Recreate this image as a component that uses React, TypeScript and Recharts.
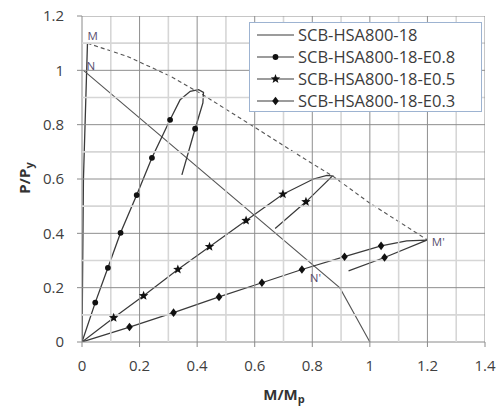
import { ComposedChart, Line, Scatter, XAxis, YAxis } from 'recharts';

// axis ticks and grid positions
const xTicks = [0, 0.2, 0.4, 0.6, 0.8, 1, 1.2, 1.4];
const yTicks = [0, 0.2, 0.4, 0.6, 0.8, 1, 1.2];
const xMinor = [0.1, 0.3, 0.5, 0.7, 0.9, 1.1, 1.3];
const yMinor = [0.1, 0.3, 0.5, 0.7, 0.9, 1.1];
const xMajor = [0.2, 0.4, 0.6, 0.8, 1, 1.2, 1.4];
const yMajor = [0.2, 0.4, 0.6, 0.8, 1, 1.2];

// SCB-HSA800-18 (elastic branch + interaction curve)
const baseElastic = [
  { x: 0, y: 0 },
  { x: 0.005, y: 0.6 },
  { x: 0.019, y: 1.1 },
];
const baseCurve = [
  { x: 0.005, y: 1.0 },
  { x: 0.896, y: 0.199 },
  { x: 1.0, y: 0 },
];

// dashed envelope M -> M'
const envelope = [
  { x: 0.019, y: 1.1 },
  { x: 0.16, y: 1.05 },
  { x: 0.306, y: 0.979 },
  { x: 0.42, y: 0.91 },
  { x: 0.596, y: 0.793 },
  { x: 0.769, y: 0.677 },
  { x: 0.872, y: 0.61 },
  { x: 1.0, y: 0.511 },
  { x: 1.198, y: 0.377 },
];

// E0.8
const e08Curve = [
  { x: 0, y: 0 },
  { x: 0.046, y: 0.145 },
  { x: 0.09, y: 0.273 },
  { x: 0.134, y: 0.402 },
  { x: 0.19, y: 0.541 },
  { x: 0.243, y: 0.678 },
  { x: 0.306, y: 0.818 },
  { x: 0.341, y: 0.892 },
  { x: 0.376, y: 0.923 },
  { x: 0.405, y: 0.929 },
  { x: 0.422, y: 0.919 },
  { x: 0.42, y: 0.88 },
  { x: 0.393, y: 0.785 },
  { x: 0.347, y: 0.615 },
];
const e08Marks = [
  { x: 0.046, y: 0.145 },
  { x: 0.09, y: 0.273 },
  { x: 0.134, y: 0.402 },
  { x: 0.19, y: 0.541 },
  { x: 0.243, y: 0.678 },
  { x: 0.306, y: 0.818 },
  { x: 0.393, y: 0.785 },
];

// E0.5
const e05Curve = [
  { x: 0, y: 0 },
  { x: 0.11, y: 0.089 },
  { x: 0.214, y: 0.17 },
  { x: 0.333, y: 0.267 },
  { x: 0.443, y: 0.351 },
  { x: 0.57, y: 0.447 },
  { x: 0.698, y: 0.544 },
  { x: 0.804, y: 0.6 },
  { x: 0.851, y: 0.613 },
  { x: 0.87, y: 0.611 },
  { x: 0.778, y: 0.516 },
  { x: 0.671, y: 0.418 },
];
const e05Marks = [
  { x: 0.11, y: 0.089 },
  { x: 0.214, y: 0.17 },
  { x: 0.333, y: 0.267 },
  { x: 0.443, y: 0.351 },
  { x: 0.57, y: 0.447 },
  { x: 0.698, y: 0.544 },
  { x: 0.778, y: 0.516 },
];

// E0.3
const e03Curve = [
  { x: 0, y: 0 },
  { x: 0.165, y: 0.055 },
  { x: 0.318, y: 0.108 },
  { x: 0.476, y: 0.166 },
  { x: 0.625, y: 0.218 },
  { x: 0.764, y: 0.267 },
  { x: 0.912, y: 0.314 },
  { x: 1.039, y: 0.354 },
  { x: 1.128, y: 0.372 },
  { x: 1.198, y: 0.375 },
  { x: 1.051, y: 0.311 },
  { x: 0.926, y: 0.262 },
];
const e03Marks = [
  { x: 0.165, y: 0.055 },
  { x: 0.318, y: 0.108 },
  { x: 0.476, y: 0.166 },
  { x: 0.625, y: 0.218 },
  { x: 0.764, y: 0.267 },
  { x: 0.912, y: 0.314 },
  { x: 1.039, y: 0.354 },
  { x: 1.051, y: 0.311 },
];

// point labels M, N, N', M'
const pointLabels = [
  { x: 0.019, y: 1.1, text: 'M', dx: 0, dy: -3 },
  { x: 0.005, y: 1.0, text: 'N', dx: 3, dy: 0 },
  { x: 0.802, y: 0.283, text: "N'", dx: -3, dy: 17 },
  { x: 1.198, y: 0.377, text: "M'", dx: 5, dy: 6 },
];

const seriesNames = ['SCB-HSA800-18', 'SCB-HSA800-18-E0.8', 'SCB-HSA800-18-E0.5', 'SCB-HSA800-18-E0.3'];

const X_MAX = 1.4;
const Y_MAX = 1.2;
const CHART_W = 497;
const CHART_H = 406;
const MARGIN = { top: 16, right: 12, left: 0, bottom: 0 };
const PLOT_TOP = MARGIN.top;
const PLOT_RIGHT = CHART_W - MARGIN.right;

// grid anchors: vertical lines start at the x axis, horizontal lines at the y axis
const minorV = xMinor.map((v) => ({ x: v, y: 0 }));
const minorH = yMinor.map((v) => ({ x: 0, y: v }));
const majorV = xMajor.map((v) => ({ x: v, y: 0 }));
const majorH = yMajor.map((v) => ({ x: 0, y: v }));

const FONT = '"Open Sans", sans-serif';
const LINE = '#3a3a3a';

const GridV = ({ cx, cy, color, w }: any) => (
  <line x1={cx} y1={cy} x2={cx} y2={PLOT_TOP} stroke={color} strokeWidth={w} />
);
const GridH = ({ cx, cy, color, w }: any) => (
  <line x1={cx} y1={cy} x2={PLOT_RIGHT} y2={cy} stroke={color} strokeWidth={w} />
);

const Dot = ({ cx, cy }: any) => <circle cx={cx} cy={cy} r={2.9} fill="#111" />;

const Star = ({ cx, cy }: any) => {
  const pts: string[] = [];
  for (let i = 0; i < 10; i++) {
    const r = i % 2 === 0 ? 5 : 2.1;
    const a = -Math.PI / 2 + (i * Math.PI) / 5;
    pts.push(`${cx + r * Math.cos(a)},${cy + r * Math.sin(a)}`);
  }
  return <polygon points={pts.join(' ')} fill="#111" />;
};

const Diamond = ({ cx, cy }: any) => (
  <polygon points={`${cx},${cy - 4.3} ${cx + 3.3},${cy} ${cx},${cy + 4.3} ${cx - 3.3},${cy}`} fill="#111" />
);

const PointLabel = ({ cx, cy, payload }: any) => (
  <text x={cx + payload.dx} y={cy + payload.dy} fontSize={11.5} fontFamily={FONT} fill="#5a5070">
    {payload.text}
  </text>
);

const XTitle = () => (
  <text x={284} y={400} textAnchor="middle" fontSize={15} fontWeight="bold" fontFamily={FONT} fill="#333">
    M/M<tspan fontSize={11} dy={3}>p</tspan>
  </text>
);

const YTitle = () => (
  <text
    x={30}
    y={178}
    textAnchor="middle"
    fontSize={15}
    fontWeight="bold"
    fontFamily={FONT}
    fill="#333"
    transform="rotate(-90 30 178)"
  >
    P/P<tspan fontSize={11} dy={3}>y</tspan>
  </text>
);

const legendMarkers = [null, Dot, Star, Diamond];

const LegendBox = () => (
  <div
    style={{
      position: 'absolute',
      left: 249,
      top: 22,
      width: 233,
      height: 90,
      boxSizing: 'border-box',
      border: '1px solid #9db3d1',
      background: '#fff',
      fontFamily: FONT,
      fontSize: 16.5,
      color: '#3c3c3c',
      paddingTop: 1,
    }}
  >
    {seriesNames.map((name, i) => {
      const M = legendMarkers[i];
      return (
        <div key={name} style={{ display: 'flex', alignItems: 'center', height: 22, lineHeight: '22px' }}>
          <svg width={48} height={22} style={{ flex: 'none' }}>
            <line x1={7} y1={11} x2={44} y2={11} stroke={LINE} strokeWidth={1.2} />
            {M && <M cx={25.5} cy={11} />}
          </svg>
          <span style={{ whiteSpace: 'nowrap' }}>{name}</span>
        </div>
      );
    })}
  </div>
);

export default function App() {
  return (
    <div style={{ position: 'absolute', left: 0, top: 0, width: CHART_W, height: CHART_H }}>
      <ComposedChart width={CHART_W} height={CHART_H} margin={MARGIN}>
        <XAxis
          type="number"
          dataKey="x"
          domain={[0, X_MAX]}
          ticks={xTicks}
          allowDataOverflow
          height={64}
          stroke="#8a8a8a"
          tickSize={5}
          tickMargin={13}
          tick={{ fill: '#404040', fontSize: 15, fontFamily: FONT }}
          label={<XTitle />}
        />
        <YAxis
          type="number"
          dataKey="y"
          domain={[0, Y_MAX]}
          ticks={yTicks}
          allowDataOverflow
          width={82}
          stroke="#8a8a8a"
          tickSize={5}
          tickMargin={13}
          tick={{ fill: '#404040', fontSize: 15, fontFamily: FONT }}
          label={<YTitle />}
        />
        <Scatter data={minorV} dataKey="y" shape={<GridV color="#d6d6d6" w={1.6} />} isAnimationActive={false} legendType="none" />
        <Scatter data={minorH} dataKey="y" shape={<GridH color="#d6d6d6" w={1.6} />} isAnimationActive={false} legendType="none" />
        <Scatter data={majorV} dataKey="y" shape={<GridV color="#8e8e8e" w={1} />} isAnimationActive={false} legendType="none" />
        <Scatter data={majorH} dataKey="y" shape={<GridH color="#8e8e8e" w={1} />} isAnimationActive={false} legendType="none" />
        <Line data={baseElastic} dataKey="y" stroke={LINE} strokeWidth={1.3} dot={false} isAnimationActive={false} legendType="none" />
        <Line data={baseCurve} dataKey="y" stroke="#555" strokeWidth={1.1} dot={false} isAnimationActive={false} legendType="none" />
        <Line data={envelope} dataKey="y" stroke="#555" strokeWidth={1.1} strokeDasharray="4 3" dot={false} isAnimationActive={false} legendType="none" />
        <Line data={e08Curve} dataKey="y" stroke={LINE} strokeWidth={1.3} dot={false} isAnimationActive={false} legendType="none" />
        <Line data={e05Curve} dataKey="y" stroke={LINE} strokeWidth={1.2} dot={false} isAnimationActive={false} legendType="none" />
        <Line data={e03Curve} dataKey="y" stroke={LINE} strokeWidth={1.2} dot={false} isAnimationActive={false} legendType="none" />
        <Scatter data={e08Marks} dataKey="y" shape={<Dot />} isAnimationActive={false} legendType="none" />
        <Scatter data={e05Marks} dataKey="y" shape={<Star />} isAnimationActive={false} legendType="none" />
        <Scatter data={e03Marks} dataKey="y" shape={<Diamond />} isAnimationActive={false} legendType="none" />
        <Scatter data={pointLabels} dataKey="y" shape={<PointLabel />} isAnimationActive={false} legendType="none" />
      </ComposedChart>
      <LegendBox />
    </div>
  );
}
